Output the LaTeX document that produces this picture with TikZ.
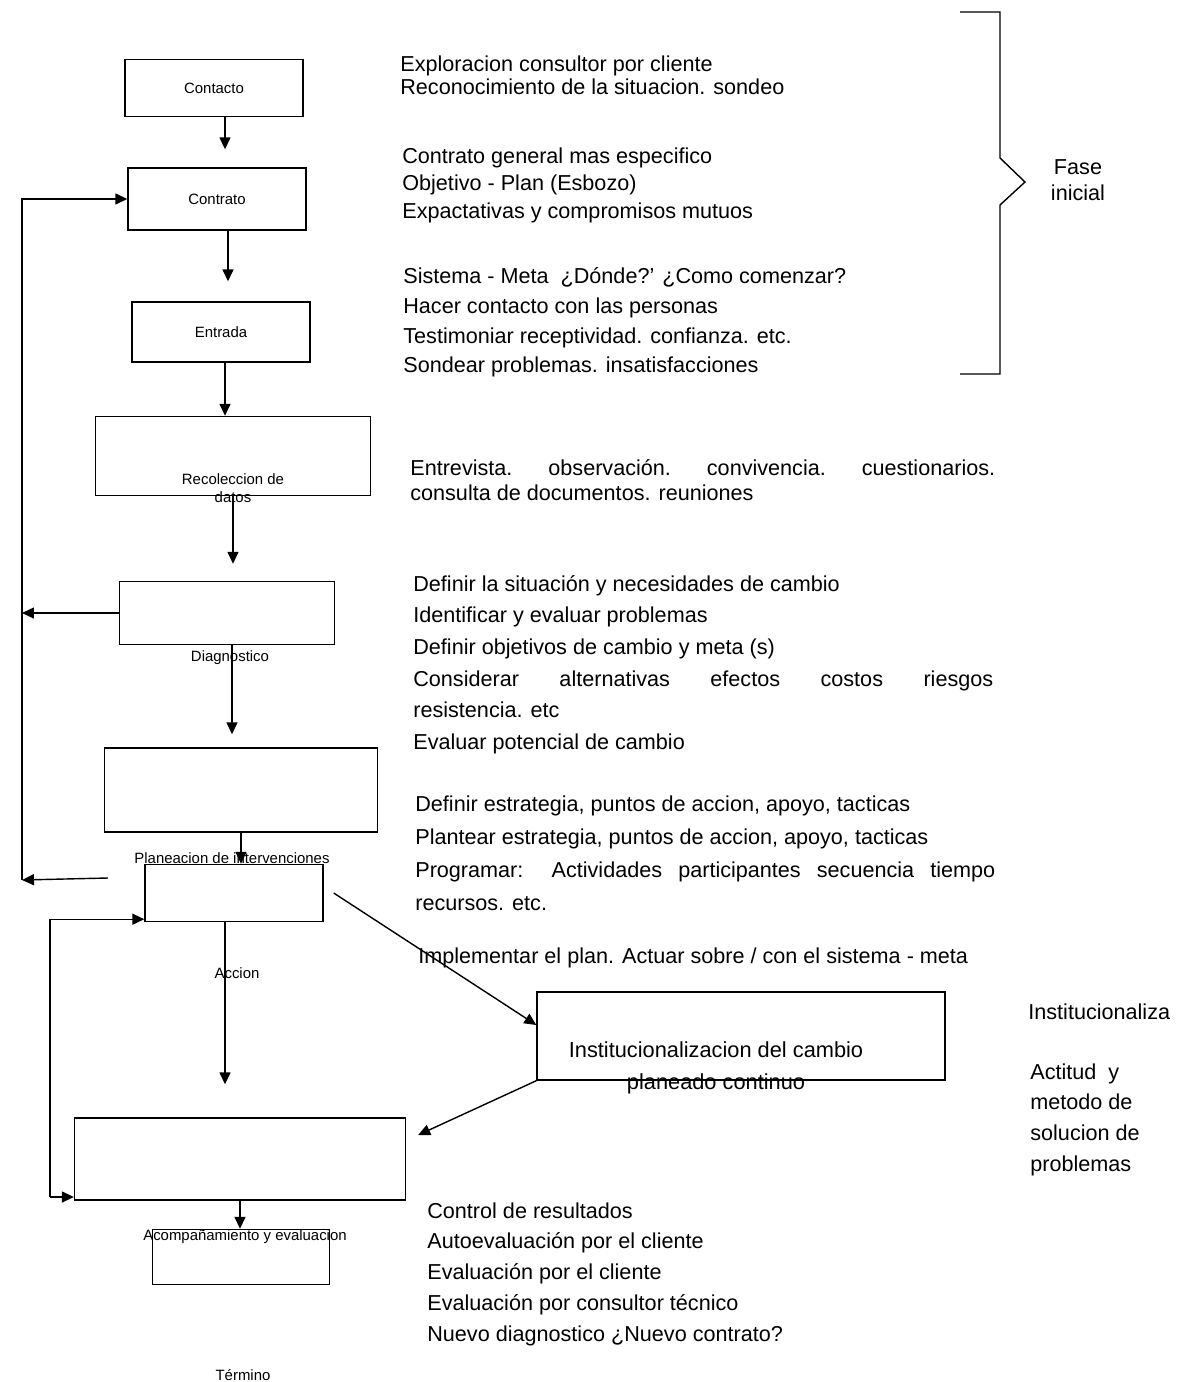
\documentclass[tikz,border=0pt]{standalone}
\usepackage{fontspec}
\setmainfont{Liberation Sans}
\usetikzlibrary{positioning,calc,arrows.meta}
\tikzset{etapa/.style={draw,line width=0.8pt,inner sep=0pt,align=center,font=\fontsize{8.5}{10}\selectfont},
  rotulo/.style={inner sep=0pt,align=center,font=\fontsize{8.5}{10}\selectfont},
  nota/.style={anchor=north west,inner sep=0pt,align=left},
  flecha/.style={draw,line width=0.8pt,-{Triangle[length=2.4mm,width=2.2mm]}}}

\begin{document}
\begin{tikzpicture}[x=0.02cm,y=-0.02cm]
\useasboundingbox (0,0) rectangle (1178,1382);
% etapas
\node[etapa,minimum width=3.56cm,minimum height=1.14cm] (contacto) at (214,88) {Contacto};
\node[etapa,minimum width=3.56cm,minimum height=1.24cm] (contrato) at (217,199) {Contrato};
\node[etapa,minimum width=3.56cm,minimum height=1.2cm] (entrada) at (221,332) {\raisebox{-1.5mm}{Entrada}};
\node[etapa,minimum width=5.5cm,minimum height=1.58cm] (recoleccion) at (233,456) {};
\node[etapa,minimum width=4.3cm,minimum height=1.26cm] (diagnostico) at (227,613) {};
\node[etapa,minimum width=5.46cm,minimum height=1.68cm] (planeacion) at (241,790) {};
\node[etapa,minimum width=3.56cm,minimum height=1.14cm] (accion) at (234,893) {};
\node[etapa,minimum width=8.16cm,minimum height=1.76cm] (instit) at (741,1036) {};
\node[etapa,minimum width=6.62cm,minimum height=1.64cm] (acomp) at (240,1159) {};
\node[etapa,minimum width=3.54cm,minimum height=1.1cm] (termino) at (241,1257) {};
% rotulos
\node[rotulo] (recoleccion-t) at ($(recoleccion.south)+(0,-8)$) {Recoleccion de\\datos};
\node[rotulo] (diagnostico-t) at ($(diagnostico.south)+(3,12)$) {Diagnostico};
\node[rotulo] (planeacion-t) at ($(accion.north)+(-2,-6)$) {Planeacion de intervenciones};
\node[rotulo] (accion-t) at ($(accion.south)+(3,51)$) {Accion};
\node[rotulo,font=\fontsize{12.4}{18}\selectfont] (instit-t) at ($(instit.south)+(-25,-13)$) {Institucionalizacion del cambio\\planeado continuo};
\node[rotulo] (acomp-t) at ($(termino.north)+(4,8)$) {Acompañamiento y evaluacion};
\node[rotulo] (termino-t) at ($(termino.south)+(2,90)$) {Término};
% flujo principal
\draw[flecha,shorten >=0.36cm] ([xshift=0.22cm]contacto.south) -- ([xshift=0.22cm]contacto.south |- contrato.north);
\draw[flecha,shorten >=0.4cm] ([xshift=0.22cm]contrato.south) -- ([xshift=0.22cm]contrato.south |- entrada.north);
\draw[flecha] ([xshift=0.08cm]entrada.south) -- ([xshift=0.08cm]entrada.south |- recoleccion.north);
\draw[flecha,shorten >=0.34cm] (recoleccion.south) -- (recoleccion.south |- diagnostico.north);
\draw[flecha,shorten >=0.26cm] ([xshift=0.1cm]diagnostico.south) -- ([xshift=0.1cm]diagnostico.south |- planeacion.north);
\draw[flecha] (planeacion.south) -- (planeacion.south |- accion.north);
\draw[flecha,shorten >=0.66cm] ([xshift=-0.18cm]accion.south) -- ([xshift=-0.18cm]accion.south |- acomp.north);
\draw[flecha] (acomp.south) -- (acomp.south |- termino.north);
\draw[flecha] ([xshift=0.2cm]accion.east) -- ([yshift=0.22cm]instit.west);
\draw[flecha] (instit.south west) -- ($(acomp.east)+(12,-24)$);
% retornos
\coordinate (vuelta) at (22,880);
\coordinate (desde) at (108,878);
\coordinate (vuelta2) at (50,1197);
\draw[flecha] (vuelta) |- (contrato.west);
\draw[flecha] (diagnostico.west) -- (diagnostico.west -| vuelta);
\draw[flecha] (desde) -- (vuelta);
\draw[flecha] (vuelta2) |- ([yshift=0.06cm]accion.south west);
\draw[flecha] (vuelta2) -- (vuelta2 -| acomp.west);
% notas
\node[nota,font=\fontsize{12.3}{13.6}\selectfont] (nota-a) at (400,55) {Exploracion consultor por cliente\\Reconocimiento de la situacion. sondeo};
\node[nota,font=\fontsize{12.3}{15.9}\selectfont] (nota-b) at (402,147) {Contrato general mas especifico\\Objetivo - Plan (Esbozo)\\Expactativas y compromisos mutuos};
\node[nota,font=\fontsize{12.3}{17}\selectfont] (nota-c) at (403,267) {Sistema - Meta \ ¿Dónde?' ¿Como comenzar?\\Hacer contacto con las personas\\Testimoniar receptividad. confianza. etc.\\Sondear problemas. insatisfacciones};
\node[nota,font=\fontsize{12.3}{14.2}\selectfont] (nota-d) at (410,459) {\makebox[11.7cm][s]{Entrevista. observación. convivencia. cuestionarios.}\\consulta de documentos. reuniones};
\node[nota,font=\fontsize{12.3}{18}\selectfont] (nota-e) at (413,575) {Definir la situación y necesidades de cambio\\Identificar y evaluar problemas\\Definir objetivos de cambio y meta (s)\\\makebox[11.6cm][s]{Considerar alternativas efectos costos riesgos}\\resistencia. etc\\Evaluar potencial de cambio};
\node[nota,font=\fontsize{12.3}{18.8}\selectfont] (nota-f) at (415,795) {Definir estrategia, puntos de accion, apoyo, tacticas\\Plantear estrategia, puntos de accion, apoyo, tacticas\\\makebox[11.6cm][s]{Programar: Actividades participantes secuencia tiempo}\\recursos. etc.};
\node[nota,font=\fontsize{12.3}{14}\selectfont] (nota-g) at (418,947) {Implementar el plan. Actuar sobre / con el sistema - meta};
\node[nota,font=\fontsize{12.3}{17.6}\selectfont] (nota-h) at (427,1202) {Control de resultados\\Autoevaluación por el cliente\\Evaluación por el cliente\\Evaluación por consultor técnico\\Nuevo diagnostico ¿Nuevo contrato?};
% fase inicial
\draw[line width=0.8pt] (960,12) -- (1000,12) -- (1000,158) -- (1025,182) -- (1000,205) -- (1000,374) -- (960,374);
\node[rotulo,font=\fontsize{12.3}{15}\selectfont] (fase) at (1078,180) {Fase\\inicial};
\node[nota,font=\fontsize{12.3}{14}\selectfont] (inst-nota) at (1028,1003) {Institucionaliza};
\node[nota,font=\fontsize{12.3}{17.5}\selectfont] (actitud) at (1030,1063) {Actitud \ y\\metodo de\\solucion de\\problemas};
\end{tikzpicture}
\end{document}
